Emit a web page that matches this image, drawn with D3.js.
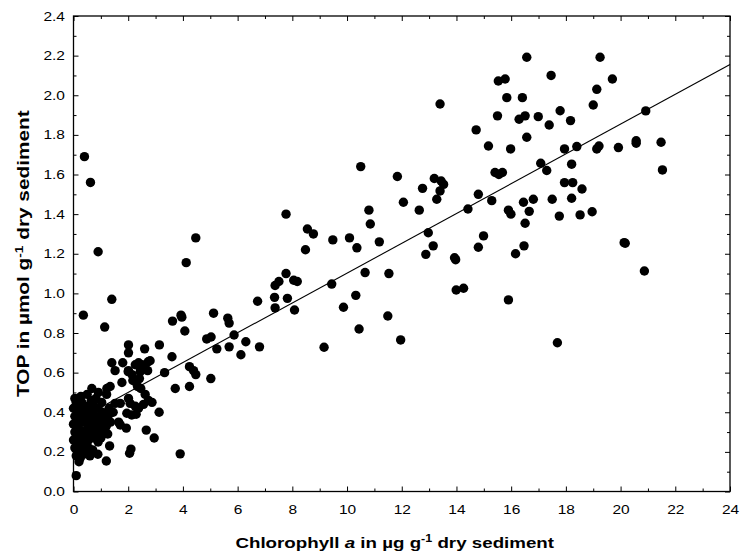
<!DOCTYPE html>
<html><head><meta charset="utf-8">
<script src="https://cdn.jsdelivr.net/npm/d3@7/dist/d3.min.js"></script>
<style>
body{margin:0;background:#fff}
svg{display:block}
text{font-family:"Liberation Sans",Arial,Helvetica,sans-serif;fill:#000}
</style>
</head><body>
<svg id="chart" width="742" height="555"></svg>
<script>
// ---------- data ----------
const xTickLabels = [0,2,4,6,8,10,12,14,16,18,20,22,24];
const xMinorTicks = [1,3,5,7,9,11,13,15,17,19,21,23];
const yTickLabels = [0.0,0.2,0.4,0.6,0.8,1.0,1.2,1.4,1.6,1.8,2.0,2.2,2.4];
const yMinorTicks = [0.1,0.3,0.5,0.7,0.9,1.1,1.3,1.5,1.7,1.9,2.1,2.3];
const fitLineX = [0, 24];
const fitLineY = [0.35, 2.155];

// samples: [chlorophyll a (µg/g), TOP (µmol/g)]
const outlierSamples = [[0.40,1.69],[0.62,1.56],[0.90,1.21],[1.40,0.97],[0.36,0.89],[1.14,0.83],[0.10,0.08]];
const clusterSamples = [
 [0.27,0.48],[0.05,0.47],[0.10,0.45],[0.20,0.44],[0.45,0.43],[0.30,0.45],[0.65,0.46],[0.82,0.47],[0.50,0.49],
 [0.67,0.52],[0.91,0.50],[1.22,0.52],[1.21,0.49],[1.03,0.45],[0.72,0.44],
 [0.00,0.42],[0.15,0.41],[0.35,0.42],[0.55,0.41],[0.90,0.42],[1.05,0.40],
 [0.05,0.38],[0.20,0.37],[0.40,0.38],[0.60,0.37],[0.80,0.38],[1.00,0.37],[1.20,0.38],[1.30,0.39],
 [0.00,0.34],[0.15,0.33],[0.30,0.35],[0.50,0.34],[0.70,0.33],[0.85,0.35],[1.05,0.34],[1.20,0.33],
 [0.05,0.30],[0.25,0.31],[0.40,0.29],[0.60,0.30],[0.80,0.29],[0.95,0.31],[1.10,0.30],[1.25,0.29],
 [0.00,0.26],[0.15,0.27],[0.35,0.25],[0.55,0.26],[0.75,0.27],[0.90,0.25],[1.00,0.27],
 [0.05,0.22],[0.20,0.23],[0.40,0.21],[0.55,0.22],[0.70,0.21],
 [0.10,0.18],[0.25,0.17],[0.45,0.19],[0.60,0.18],[0.20,0.15],
 [0.12,0.32],[0.35,0.28],[0.50,0.31],[0.65,0.35],[0.25,0.39],[0.45,0.36],[0.70,0.40],[0.95,0.36],
 [0.30,0.22],[0.15,0.20],[0.85,0.32],[1.15,0.36],[1.45,0.40],[1.35,0.35],[1.30,0.42]
];
const lowSamples = [
 [1.40,0.65],[1.52,0.61],[1.80,0.65],[2.01,0.74],[2.01,0.70],[2.60,0.72],[3.14,0.74],[2.80,0.66],[2.73,0.655],
 [2.71,0.61],[2.01,0.61],[2.26,0.64],[2.38,0.65],[2.50,0.64],[2.44,0.605],[2.17,0.56],[2.29,0.55],[2.41,0.57],
 [2.34,0.53],[2.46,0.52],[1.77,0.55],[1.34,0.53],[1.52,0.445],[1.71,0.445],[2.01,0.47],[2.07,0.445],[2.62,0.49],
 [2.56,0.44],[2.74,0.46],[2.87,0.45],[2.26,0.43],[2.38,0.42],[1.95,0.395],[2.13,0.386],[2.29,0.39],[3.13,0.40],
 [1.65,0.35],[1.71,0.336],[1.93,0.32],[2.66,0.31],[2.95,0.27],[1.32,0.23],[2.10,0.214],[2.05,0.193],[0.89,0.188],
 [1.20,0.154],[2.14,0.59],[2.61,0.63],[2.46,0.62],[2.00,0.605]
];
const midSamples = [
 [3.90,0.19],[3.72,0.52],[4.24,0.53],[3.33,0.60],[3.60,0.68],[3.62,0.86],[3.93,0.89],[3.96,0.88],[4.07,0.81],
 [4.12,1.155],[4.47,1.28],[5.12,0.90],[5.64,0.875],[5.69,0.85],[5.87,0.79],[4.87,0.77],[5.03,0.78],[5.24,0.72],
 [5.69,0.73],[6.30,0.756],[6.12,0.69],[6.80,0.73],[4.24,0.63],[4.39,0.61],[4.47,0.59],[5.02,0.57],
 [6.73,0.96],[7.77,1.40],[8.55,1.325],[8.77,1.30],[8.48,1.22],[9.48,1.27],[10.09,1.28],[10.36,1.23],[10.80,1.42],
 [10.85,1.35],[11.18,1.26],[10.66,1.105],[11.53,1.10],[9.44,1.047],[10.32,0.99],[9.87,0.93],[10.44,0.82],
 [11.49,0.886],[11.96,0.765],[9.16,0.728],[7.77,1.10],[7.37,1.04],[7.51,1.06],[8.05,1.066],[8.18,1.06],
 [7.35,0.98],[7.82,0.975],[7.37,0.927],[8.08,0.916],[10.50,1.64]
];
const highSamples = [
 [11.84,1.59],[12.06,1.46],[12.64,1.42],[12.76,1.53],[13.19,1.58],[13.44,1.567],[13.53,1.55],[13.40,1.517],
 [13.28,1.475],[12.97,1.306],[13.15,1.24],[12.88,1.197],[13.93,1.18],[13.97,1.17],[13.99,1.017],[14.26,1.026],
 [14.42,1.426],[14.80,1.50],[14.99,1.29],[14.80,1.233],[15.29,1.468],[13.40,1.956],[14.72,1.825],[15.17,1.744],
 [15.41,1.61],[15.55,1.60],[15.68,1.61],[15.90,1.42],[15.99,1.40],[15.90,0.967],[16.16,1.20],[16.47,1.24],
 [16.51,1.354],[16.45,1.46],[16.81,1.475],[16.66,1.414],[17.08,1.657],[17.30,1.62],[17.50,1.475],[17.76,1.39],
 [17.69,0.751],[15.53,2.072],[15.78,2.082],[15.84,1.988],[16.41,1.988],[16.57,2.192],[15.50,1.896],[16.29,1.879],
 [16.51,1.896],[16.99,1.892],[16.57,1.788],[15.98,1.729],[17.46,2.10],[17.39,1.85],[17.79,1.922],
 [17.95,1.559],[18.25,1.559],[18.21,1.652],[18.21,1.48],[18.59,1.527],[18.52,1.396],[18.96,1.412],[17.95,1.729],
 [18.40,1.741],[19.13,1.729],[19.21,1.744],[19.92,1.736],[20.57,1.758],[20.57,1.77],[21.48,1.763],[21.53,1.623],
 [20.92,1.921],[18.17,1.872],[19.00,1.951],[19.13,2.03],[19.70,2.082],[19.25,2.192],[20.13,1.256],[20.17,1.253],
 [20.87,1.113]
];
const samples = [].concat(outlierSamples, clusterSamples, lowSamples, midSamples, highSamples);

// ---------- chart ----------
const svg = d3.select("#chart");
svg.append("rect").attr("width",742).attr("height",555).attr("fill","#fff");

const x = d3.scaleLinear().domain([0,24]).range([73.5,730]);
const y = d3.scaleLinear().domain([0,2.4]).range([491.5,16]);
const STRETCH = 1.22;

// points
svg.append("g").selectAll("circle").data(samples).join("circle")
  .attr("cx", d => x(d[0])).attr("cy", d => y(d[1])).attr("r", 4.7).attr("fill", "#000");

// fit line
svg.append("line")
  .attr("x1", x(fitLineX[0])).attr("y1", y(fitLineY[0]))
  .attr("x2", x(fitLineX[1])).attr("y2", y(fitLineY[1]))
  .attr("stroke","#000").attr("stroke-width",1.1);

// frame
svg.append("rect").attr("x",x(0)).attr("y",y(2.4))
  .attr("width",x(24)-x(0)).attr("height",y(0)-y(2.4))
  .attr("fill","none").attr("stroke","#000").attr("stroke-width",1.3);

function clean(g){ g.select(".domain").remove(); g.selectAll("line").attr("stroke","#000"); }

// bottom
const gb = svg.append("g").attr("transform",`translate(0,${y(0)})`)
  .call(d3.axisBottom(x).tickValues(xTickLabels).tickSize(-5).tickPadding(13.5).tickFormat(d3.format("d")))
  .call(clean);
gb.selectAll("text").attr("font-size",12.7).attr("transform",`scale(${STRETCH},1)`);
svg.append("g").attr("transform",`translate(0,${y(0)})`)
  .call(d3.axisBottom(x).tickValues(xMinorTicks).tickSize(-3).tickFormat("")).call(clean);
// top
svg.append("g").attr("transform",`translate(0,${y(2.4)})`)
  .call(d3.axisTop(x).tickValues(xTickLabels).tickSize(-5).tickFormat("")).call(clean);
svg.append("g").attr("transform",`translate(0,${y(2.4)})`)
  .call(d3.axisTop(x).tickValues(xMinorTicks).tickSize(-3).tickFormat("")).call(clean);
// left
const gl = svg.append("g").attr("transform",`translate(${x(0)},0)`)
  .call(d3.axisLeft(y).tickValues(yTickLabels).tickSize(-5).tickPadding(7).tickFormat(d3.format(".1f")))
  .call(clean);
gl.selectAll("text").attr("font-size",12.7).attr("transform",`scale(${STRETCH},1)`);
svg.append("g").attr("transform",`translate(${x(0)},0)`)
  .call(d3.axisLeft(y).tickValues(yMinorTicks).tickSize(-3).tickFormat("")).call(clean);
// right
svg.append("g").attr("transform",`translate(${x(24)},0)`)
  .call(d3.axisRight(y).tickValues(yTickLabels).tickSize(-5).tickFormat("")).call(clean);
svg.append("g").attr("transform",`translate(${x(24)},0)`)
  .call(d3.axisRight(y).tickValues(yMinorTicks).tickSize(-3).tickFormat("")).call(clean);

// axis titles
const xt = svg.append("text")
  .attr("transform",`translate(${(x(0)+x(24))/2 - 7},548) scale(1.25,1)`)
  .attr("text-anchor","middle").attr("font-size",15).attr("font-weight","bold");
xt.append("tspan").text("Chlorophyll ");
xt.append("tspan").attr("font-style","italic").text("a");
xt.append("tspan").text(" in µg g");
xt.append("tspan").attr("font-size",10).attr("dy",-6).text("-1");
xt.append("tspan").attr("dy",6).text(" dry sediment");

const yt = svg.append("text")
  .attr("transform",`translate(29,${(y(0)+y(2.4))/2}) rotate(-90) scale(1.3,1)`)
  .attr("text-anchor","middle").attr("font-size",16).attr("font-weight","bold");
yt.append("tspan").text("TOP in µmol g");
yt.append("tspan").attr("font-size",10.5).attr("dy",-6.5).text("-1");
yt.append("tspan").attr("dy",6.5).text(" dry sediment");
</script>
</body></html>
